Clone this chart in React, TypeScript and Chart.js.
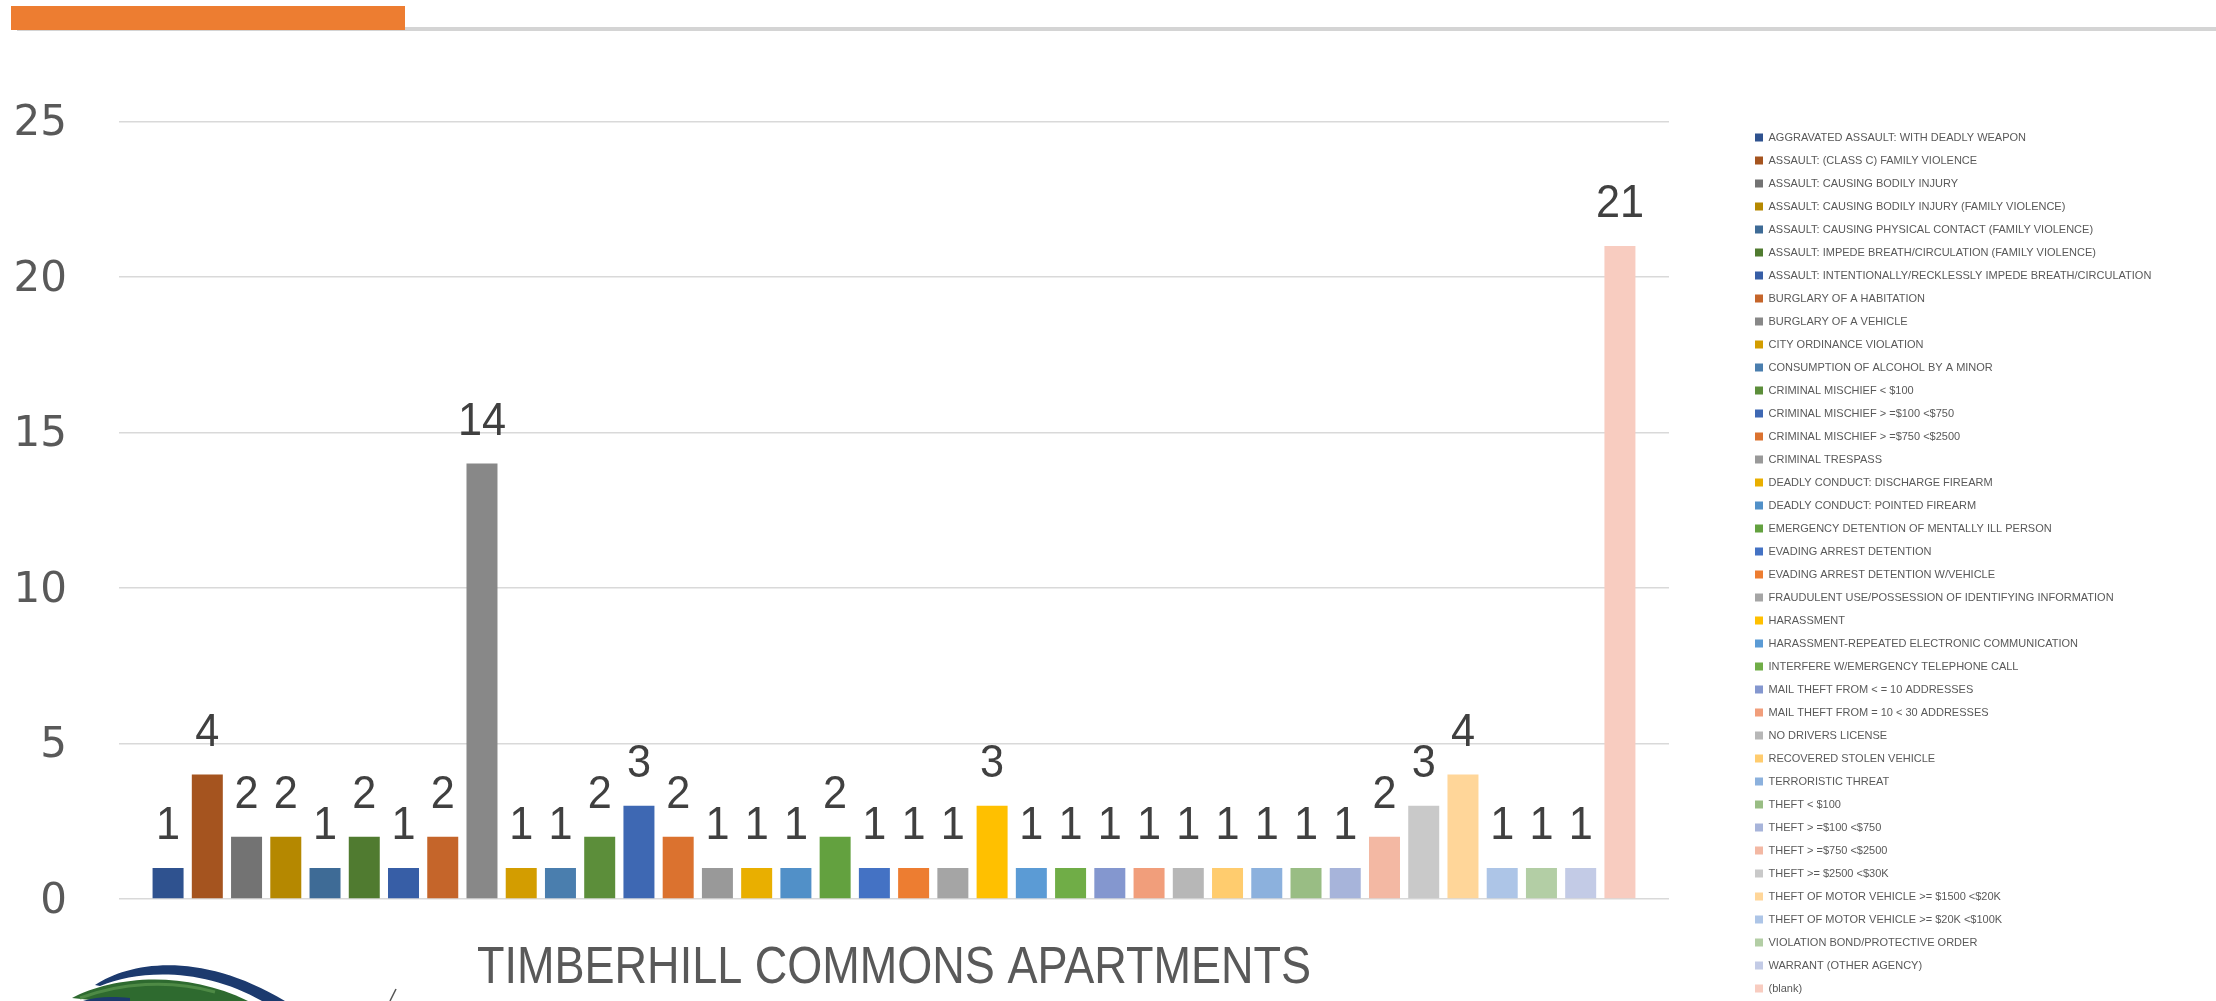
import React, { useEffect, useRef } from "react";
import { Chart, registerables } from "chart.js";

Chart.register(...registerables);

const categories = ["TIMBERHILL COMMONS APARTMENTS"];

const seriesNames = [
  "AGGRAVATED ASSAULT: WITH DEADLY WEAPON",
  "ASSAULT: (CLASS C) FAMILY VIOLENCE",
  "ASSAULT: CAUSING BODILY INJURY",
  "ASSAULT: CAUSING BODILY INJURY (FAMILY VIOLENCE)",
  "ASSAULT: CAUSING PHYSICAL CONTACT (FAMILY VIOLENCE)",
  "ASSAULT: IMPEDE BREATH/CIRCULATION (FAMILY VIOLENCE)",
  "ASSAULT: INTENTIONALLY/RECKLESSLY IMPEDE BREATH/CIRCULATION",
  "BURGLARY OF A HABITATION",
  "BURGLARY OF A VEHICLE",
  "CITY ORDINANCE VIOLATION",
  "CONSUMPTION OF ALCOHOL BY A MINOR",
  "CRIMINAL MISCHIEF < $100",
  "CRIMINAL MISCHIEF > =$100 <$750",
  "CRIMINAL MISCHIEF > =$750 <$2500",
  "CRIMINAL TRESPASS",
  "DEADLY CONDUCT: DISCHARGE FIREARM",
  "DEADLY CONDUCT: POINTED FIREARM",
  "EMERGENCY DETENTION OF MENTALLY ILL PERSON",
  "EVADING ARREST DETENTION",
  "EVADING ARREST DETENTION W/VEHICLE",
  "FRAUDULENT USE/POSSESSION OF IDENTIFYING INFORMATION",
  "HARASSMENT",
  "HARASSMENT-REPEATED ELECTRONIC COMMUNICATION",
  "INTERFERE W/EMERGENCY TELEPHONE CALL",
  "MAIL THEFT FROM < = 10 ADDRESSES",
  "MAIL THEFT FROM = 10 < 30 ADDRESSES",
  "NO DRIVERS LICENSE",
  "RECOVERED STOLEN VEHICLE",
  "TERRORISTIC THREAT",
  "THEFT < $100",
  "THEFT > =$100 <$750",
  "THEFT > =$750 <$2500",
  "THEFT >= $2500 <$30K",
  "THEFT OF MOTOR VEHICLE >= $1500 <$20K",
  "THEFT OF MOTOR VEHICLE >= $20K <$100K",
  "VIOLATION BOND/PROTECTIVE ORDER",
  "WARRANT (OTHER AGENCY)",
  "(blank)",
];

const seriesValues = [
  1, 4, 2, 2, 1, 2, 1, 2, 14, 1, 1, 2, 3, 2, 1, 1, 1, 2, 1, 1, 1, 3, 1, 1, 1,
  1, 1, 1, 1, 1, 1, 2, 3, 4, 1, 1, 1, 21,
];

const seriesColors = [
  "#2F528F", "#A5541F", "#737373", "#B58800", "#3E6B96", "#507B30",
  "#375EA6", "#C5652A", "#888888", "#D39D00", "#4A7EAE", "#5C8E3A",
  "#3E68B3", "#DB722F", "#999999", "#E9AF00", "#5190C8", "#63A13F",
  "#4472C4", "#ED7D31", "#A5A5A5", "#FFC000", "#5B9BD5", "#70AD47",
  "#8497CF", "#F19E7B", "#B7B7B7", "#FFCC6E", "#8CB1DD", "#99BD84",
  "#A7B4DA", "#F3B8A3", "#C9C9C9", "#FFD699", "#ADC5E7", "#B3CEA5",
  "#C3CBE6", "#F8CCC0",
];

const yMin = 0;
const yMax = 25;
const yStep = 5;

const SANS = "'Liberation Sans', Arial, sans-serif";
const LEGEND_FONT_SIZE = 11;
const LEGEND_PADDING = 12;
const LEGEND_BOX = 8;

// Value labels above each bar (positions come from the bar elements)
const valueLabels = {
  id: "valueLabels",
  afterDatasetsDraw(chart: any) {
    const ctx = chart.ctx;
    ctx.save();
    ctx.font = `47px ${SANS}`;
    ctx.fillStyle = "#404040";
    ctx.textAlign = "center";
    ctx.textBaseline = "middle";
    chart.data.datasets.forEach((ds: any, i: number) => {
      const meta = chart.getDatasetMeta(i);
      meta.data.forEach((el: any, j: number) => {
        ctx.save();
        ctx.translate(el.x, el.y - 42);
        ctx.scale(0.92, 1);
        ctx.fillText(String(ds.data[j]), 0, 0);
        ctx.restore();
      });
    });
    ctx.restore();
  },
};

// Condensed category label under the axis (position from the x scale)
const categoryLabel = {
  id: "categoryLabel",
  afterDraw(chart: any) {
    const xs = chart.scales.x;
    const ctx = chart.ctx;
    ctx.save();
    ctx.font = `51px ${SANS}`;
    ctx.fillStyle = "#595959";
    ctx.textAlign = "center";
    ctx.textBaseline = "middle";
    (chart.data.labels as string[]).forEach((lab, i) => {
      ctx.save();
      ctx.translate(xs.getPixelForTick(i), xs.top + 70);
      ctx.scale(0.883, 1);
      ctx.fillText(lab, 0, 0);
      ctx.restore();
    });
    ctx.restore();
  },
};

function legendWidth(): number {
  const c = document.createElement("canvas").getContext("2d") as CanvasRenderingContext2D;
  c.font = `${LEGEND_FONT_SIZE}px ${SANS}`;
  const maxText = Math.max(...seriesNames.map((n) => c.measureText(n).width));
  return LEGEND_PADDING + LEGEND_BOX + LEGEND_FONT_SIZE / 2 + maxText + 10;
}

export default function App() {
  const ref = useRef<HTMLCanvasElement>(null);

  useEffect(() => {
    const lw = legendWidth();
    const legendLeft = 1743;
    const padRight = Math.max(0, 2216 - legendLeft - lw);
    const chart = new Chart(ref.current as HTMLCanvasElement, {
      type: "bar",
      data: {
        labels: categories,
        datasets: seriesNames.map((name, i) => ({
          label: name,
          data: [seriesValues[i]],
          backgroundColor: seriesColors[i],
          borderWidth: 0,
        })),
      },
      options: {
        animation: false,
        responsive: true,
        maintainAspectRatio: false,
        datasets: { bar: { categoryPercentage: 0.962, barPercentage: 0.79 } },
        layout: { padding: { left: 0, top: 0, right: padRight, bottom: 0 } },
        plugins: {
          tooltip: { enabled: false },
          title: { display: false },
          legend: {
            position: "right",
            align: "end",
            maxWidth: 1000,
            labels: {
              boxWidth: LEGEND_BOX,
              boxHeight: LEGEND_BOX,
              padding: LEGEND_PADDING,
              color: "#595959",
              font: { family: SANS, size: LEGEND_FONT_SIZE },
            },
          },
        },
        scales: {
          x: {
            type: "category",
            grid: { display: false },
            border: { display: false },
            ticks: { display: false },
            afterFit: (s: any) => {
              s.height = 107;
            },
          },
          x2: {
            type: "category",
            position: "top",
            grid: { display: false },
            border: { display: false },
            ticks: { display: false },
            afterFit: (s: any) => {
              s.height = 121.5;
            },
          },
          y: {
            min: yMin,
            max: yMax,
            ticks: {
              stepSize: yStep,
              color: "#595959",
              padding: 52,
              labelOffset: 3,
              font: { family: "'DejaVu Sans', sans-serif", size: 42 },
            },
            grid: { color: "#D9D9D9", lineWidth: 1.5, drawTicks: false },
            border: { display: false },
            afterFit: (s: any) => {
              s.width = 119;
            },
          },
          y2: {
            type: "linear",
            position: "right",
            grid: { display: false },
            border: { display: false },
            ticks: { display: false },
            afterFit: (s: any) => {
              s.width = legendLeft - 1669;
            },
          },
        },
      } as any,
      plugins: [valueLabels, categoryLabel],
    });
    return () => chart.destroy();
  }, []);

  return (
    <div
      style={{
        position: "fixed",
        left: 0,
        top: 0,
        width: 2216,
        height: 1001,
        overflow: "hidden",
        background: "#ffffff",
      }}
    >
      <div style={{ position: "absolute", left: 0, top: 0, width: 2216, height: 1006 }}>
        <canvas ref={ref} />
      </div>
      <div
        style={{
          position: "absolute",
          left: 17,
          top: 27,
          width: 2199,
          height: 4,
          background: "#D4D4D4",
        }}
      />
      <div
        style={{
          position: "absolute",
          left: 11,
          top: 6,
          width: 394,
          height: 24,
          background: "#ED7D31",
        }}
      />
      <svg
        style={{ position: "absolute", left: 0, top: 940 }}
        width={450}
        height={61}
        viewBox="0 0 450 61"
      >
        <path d="M95 45 C130 22 200 10 285 61 L262 61 C205 28 140 29 100 46 Z" fill="#1C3A6E" />
        <path d="M72 58 C110 38 180 28 248 61 L100 61 Z" fill="#2E6A2F" />
        <path d="M80 58 C120 43 170 39 215 52" stroke="#4E8A45" strokeWidth={3} fill="none" />
        <path d="M83 61 C95 57 110 56 130 58 L130 61 Z" fill="#1C3A6E" />
        <line x1={396} y1={49} x2={390} y2={61} stroke="#555555" strokeWidth={1.5} />
      </svg>
    </div>
  );
}
